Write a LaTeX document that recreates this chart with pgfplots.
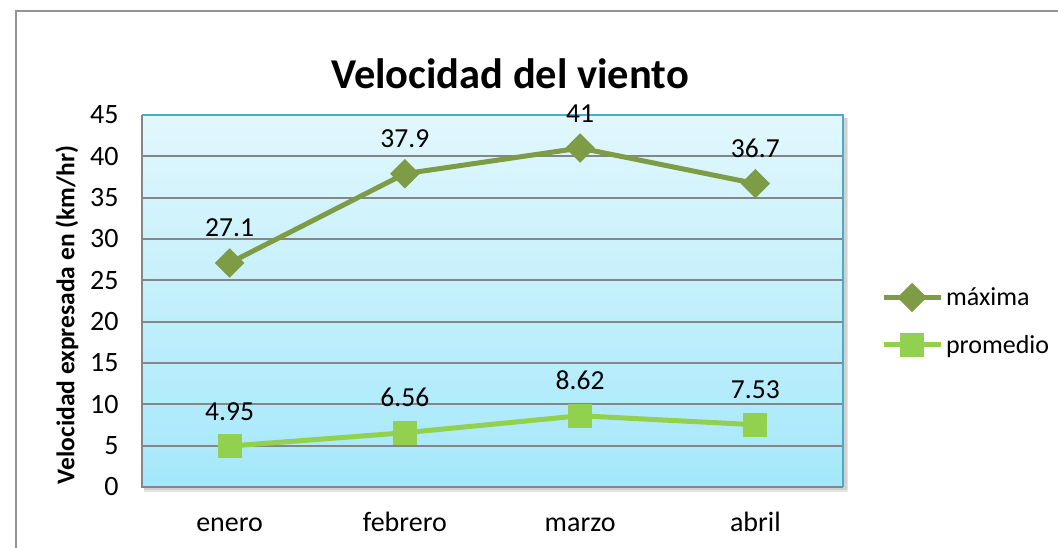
\documentclass[border=0pt]{standalone}
\usepackage{pgfplots}
\pgfplotsset{compat=1.18}
\usepackage{fontspec}
\setmainfont{Carlito}
\definecolor{maxc}{HTML}{7E9C45}
\definecolor{proc}{HTML}{92D050}
\definecolor{gridc}{HTML}{868686}
\definecolor{topbg}{HTML}{E2F7FD}
\definecolor{botbg}{HTML}{A4E8FB}
\definecolor{cyanb}{HTML}{4BACC6}
\begin{document}
\begin{tikzpicture}[x=1pt,y=1pt]
\useasboundingbox (0,0) rectangle (1058,548);
\draw[gray!85, line width=2pt] (16,-20) -- (16,537) -- (1080,537);
\node[font=\fontsize{42.5}{46}\selectfont\bfseries] at (510,474) {Velocidad del viento};
\node[font=\fontsize{25.5}{28}\selectfont\bfseries, rotate=90] at (67,233) {Velocidad expresada en (km/hr)};
% shadow
\fill[black!10] (144,56) rectangle (848,430);
\fill[black!18] (144,57.5) rectangle (846.5,430);
\begin{axis}[
  at={(142pt,61pt)}, anchor=south west,
  scale only axis, width=701pt, height=372pt,
  xmin=-0.5, xmax=3.5, ymin=0, ymax=45,
  xtick={0,1,2,3}, xticklabels={enero,febrero,marzo,abril},
  ytick={0,5,...,45},
  ymajorgrids, major grid style={color=gridc, line width=2pt},
  axis line style={draw=none}, tick style={draw=none},
  axis background/.style={top color=topbg, bottom color=botbg},
  /pgf/number format/assume math mode=true,
  ticklabel style={font=\fontsize{28}{30}\selectfont},
  yticklabel style={xshift=-20pt},
  xticklabel style={anchor=base, yshift=-45pt},
  /pgf/number format/precision=2,
  nodes near coords,
  every node near coord/.append style={font=\fontsize{27.5}{30}\selectfont, anchor=base, yshift=26pt, text=black},
  legend style={at={(1.054,0.449)}, anchor=west, draw=none, fill=none,
    font=\fontsize{26}{30}\selectfont, row sep=22pt, inner sep=0pt,
    nodes={inner xsep=3pt, inner ysep=0pt}},
  legend cell align=left,
  legend image code/.code={\draw[mark repeat=2,mark phase=2,#1] plot coordinates {(0pt,0pt) (28.5pt,0pt) (57pt,0pt)};},
  clip=false,
]
\addplot[color=maxc, line width=5pt, mark=square*, mark size=9.9pt,
  mark options={solid, rotate=45, fill=maxc, draw=maxc, line width=1pt, rounded corners=2pt}]
  coordinates {(0,27.1) (1,37.9) (2,41) (3,36.7)};
\addlegendentry{máxima}
\addplot[color=proc, line width=5pt, mark=square*, mark size=11.5pt,
  mark options={solid, fill=proc, draw=proc, line width=1pt, rounded corners=2pt}]
  coordinates {(0,4.95) (1,6.56) (2,8.62) (3,7.53)};
\addlegendentry{promedio}
\draw[gridc, line width=2pt] (rel axis cs:0,1) -- (rel axis cs:0,0) -- (rel axis cs:1,0);
\draw[cyanb, line width=2.5pt] (rel axis cs:0,1) -- (rel axis cs:1,1) -- (rel axis cs:1,0);
\end{axis}
\end{tikzpicture}
\end{document}
